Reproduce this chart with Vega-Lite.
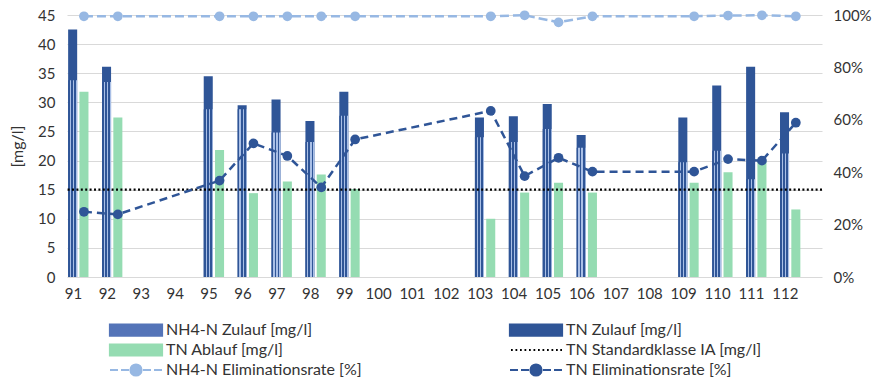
{
  "$schema": "https://vega.github.io/schema/vega-lite/v6.json",
  "width": 755,
  "height": 262,
  "autosize": {"type": "none"},
  "padding": {"left": 67, "top": 15, "right": 55, "bottom": 107},
  "background": "white",
  "config": {
    "font": "Lato",
    "view": {"stroke": null},
    "axis": {"labelFont": "Lato", "labelFontSize": 15, "labelColor": "#333333", "domain": false, "ticks": false, "gridColor": "#d9d9d9", "gridWidth": 1, "titleFont": "Lato", "titleColor": "#333333", "labelOverlap": false}
  },
  "data": {
    "values": [
      {"k": 91, "nh4": 33.8, "tn": 42.5, "abl": 31.8, "enh4": 0.995, "etn": 0.249},
      {"k": 92, "nh4": 33.5, "tn": 36.1, "abl": 27.4, "enh4": 0.995, "etn": 0.239},
      {"k": 95, "nh4": 28.8, "tn": 34.5, "abl": 21.8, "enh4": 0.995, "etn": 0.368},
      {"k": 96, "nh4": 28.8, "tn": 29.5, "abl": 14.4, "enh4": 0.995, "etn": 0.510},
      {"k": 97, "nh4": 24.8, "tn": 30.5, "abl": 16.4, "enh4": 0.995, "etn": 0.462},
      {"k": 98, "nh4": 23.2, "tn": 26.8, "abl": 17.6, "enh4": 0.995, "etn": 0.342},
      {"k": 99, "nh4": 27.7, "tn": 31.8, "abl": 15.1, "enh4": 0.995, "etn": 0.525},
      {"k": 103, "nh4": 24.0, "tn": 27.4, "abl": 10.0, "enh4": 0.995, "etn": 0.634},
      {"k": 104, "nh4": 23.2, "tn": 27.6, "abl": 14.5, "enh4": 0.999, "etn": 0.385},
      {"k": 105, "nh4": 25.4, "tn": 29.7, "abl": 16.2, "enh4": 0.972, "etn": 0.455},
      {"k": 106, "nh4": 22.2, "tn": 24.4, "abl": 14.5, "enh4": 0.995, "etn": 0.402},
      {"k": 109, "nh4": 19.7, "tn": 27.4, "abl": 16.2, "enh4": 0.995, "etn": 0.402},
      {"k": 110, "nh4": 21.7, "tn": 32.9, "abl": 18.0, "enh4": 0.998, "etn": 0.450},
      {"k": 111, "nh4": 16.8, "tn": 36.1, "abl": 19.9, "enh4": 0.999, "etn": 0.444},
      {"k": 112, "nh4": 21.2, "tn": 28.3, "abl": 11.6, "enh4": 0.995, "etn": 0.589}
    ]
  },
  "layer": [
    {
      "layer": [
        {
          "mark": {"type": "bar"},
          "encoding": {
            "x": {
              "field": "k", "type": "ordinal",
              "scale": {"domain": [91,92,93,94,95,96,97,98,99,100,101,102,103,104,105,106,107,108,109,110,111,112], "paddingInner": 0, "paddingOuter": 0.136, "align": 0},
              "axis": {"title": null, "labelAngle": 0, "grid": false, "labelPadding": 9, "labelOffset": -10.5}
            },
            "xOffset": {"datum": "Z", "scale": {"domain": ["Z", "A", "E"], "paddingInner": 0.2, "paddingOuter": 0.1}},
            "y": {"field": "tn", "type": "quantitative", "scale": {"domain": [0, 45], "nice": false},
              "axis": {"title": "[mg/l]", "titleFontSize": 16, "titleFontWeight": "normal", "titlePadding": 12, "values": [0,5,10,15,20,25,30,35,40,45], "grid": true, "labelPadding": 12}},
            "color": {
              "datum": "TN Zulauf [mg/l]",
              "scale": {
                "domain": ["NH4-N Zulauf [mg/l]", "TN Ablauf [mg/l]", "NH4-N Eliminationsrate [%]", "TN Zulauf [mg/l]", "TN Standardklasse IA [mg/l]", "TN Eliminationsrate [%]"],
                "range": ["#5474b8", "#95dcb2", "#97b8e3", "#2f5597", "#000000", "#2f5597"]
              },
              "legend": {
                "orient": "none", "legendX": 61, "legendY": 307, "columns": 2, "columnPadding": 143, "rowPadding": 0,
                "title": null, "padding": 0, "symbolSize": 100, "symbolOffset": 0, "labelOffset": 22,
                "labelFont": "Lato", "labelFontSize": 16, "labelColor": "#333333", "labelLimit": 400,
                "encode": {
                  "symbols": {
                    "update": {
                      "shape": [
                        {"test": "datum.index === 0", "value": "M-5.2,-0.629V-1.1H-4.9ZM-5.2,1.1H-4.8L-3.4,-1.1H-4.4L-5.2,0.157ZM-4.3,1.1H-3.3L-1.9,-1.1H-2.9ZM-2.8,1.1H-1.8L-0.4,-1.1H-1.4ZM-1.3,1.1H-0.3L1.1,-1.1H0.1ZM0.2,1.1H1.2L2.6,-1.1H1.6ZM1.7,1.1H2.7L4.1,-1.1H3.1ZM3.2,1.1H4.2L5.2,-0.471V-1.1H4.6ZM4.7,1.1H5.2V0.314Z"},
                        {"test": "datum.value === 'TN Standardklasse IA [mg/l]'", "value": "M-5,0h0.35M-4.1,0h0.35M-3.2,0h0.35M-2.3,0h0.35M-1.4,0h0.35M-0.5,0h0.35M0.4,0h0.35M1.3,0h0.35M2.2,0h0.35M3.1,0h0.35M4,0h0.35M4.85,0h0.35"},
                        {"test": "indexof(datum.value, 'Eliminationsrate') >= 0", "value": "M-5.2,0H-3.6M-3,0H-1.4M1.4,0H3M3.6,0H5.2M-1.1,0A1.1,1.1 0 1,1 1.1,0A1.1,1.1 0 1,1 -1.1,0Z"},
                        {"value": "M-5.2,-1.1H5.2V1.1H-5.2Z"}
                      ],
                      "fill": [
                        {"test": "datum.value === 'TN Standardklasse IA [mg/l]'", "value": "transparent"},
                        {"test": "datum.index === 0", "value": "#2f5597"},
                        {"scale": "color", "field": "value"}
                      ],
                      "stroke": [
                        {"test": "indexof(datum.value, 'Eliminationsrate') >= 0 || datum.value === 'TN Standardklasse IA [mg/l]'", "scale": "color", "field": "value"},
                        {"value": "transparent"}
                      ],
                      "strokeWidth": {"value": 2.2},
                      "opacity": {"value": 1},
                      "fillOpacity": {"value": 1},
                      "strokeOpacity": {"value": 1}
                    }
                  }
                }
              }
            }
          }
        },
        {
          "mark": {"type": "bar", "fill": {"gradient": "linear", "x1": 0, "y1": 0, "x2": 1, "y2": 0, "stops": [
            {"offset": 0, "color": "#2f5597"}, {"offset": 0.2, "color": "#2f5597"}, {"offset": 0.2, "color": "#a9bfe6"}, {"offset": 0.34, "color": "#a9bfe6"},
            {"offset": 0.34, "color": "#2f5597"}, {"offset": 0.54, "color": "#2f5597"}, {"offset": 0.54, "color": "#a9bfe6"}, {"offset": 0.68, "color": "#a9bfe6"},
            {"offset": 0.68, "color": "#2f5597"}, {"offset": 0.88, "color": "#2f5597"}, {"offset": 0.88, "color": "#a9bfe6"}, {"offset": 1, "color": "#a9bfe6"}
          ]}},
          "encoding": {
            "x": {"field": "k", "type": "ordinal"},
            "xOffset": {"datum": "Z"},
            "y": {"field": "nh4", "type": "quantitative",
              "axis": {"title": "[mg/l]", "titleFontSize": 16, "titleFontWeight": "normal", "titlePadding": 12, "values": [0,5,10,15,20,25,30,35,40,45], "grid": true, "labelPadding": 12}}
          }
        },
        {
          "mark": {"type": "bar"},
          "encoding": {
            "x": {"field": "k", "type": "ordinal"},
            "xOffset": {"datum": "A"},
            "y": {"field": "abl", "type": "quantitative",
              "axis": {"title": "[mg/l]", "titleFontSize": 16, "titleFontWeight": "normal", "titlePadding": 12, "values": [0,5,10,15,20,25,30,35,40,45], "grid": true, "labelPadding": 12}},
            "color": {"datum": "TN Ablauf [mg/l]"}
          }
        },
        {
          "data": {"values": [{"std": 15}]},
          "mark": {"type": "rule", "strokeDash": [2, 2.4], "strokeWidth": 2.2},
          "encoding": {
            "y": {"field": "std", "type": "quantitative",
              "axis": {"title": "[mg/l]", "titleFontSize": 16, "titleFontWeight": "normal", "titlePadding": 12, "values": [0,5,10,15,20,25,30,35,40,45], "grid": true, "labelPadding": 12}},
            "color": {"datum": "TN Standardklasse IA [mg/l]"}
          }
        }
      ]
    },
    {
      "layer": [
        {
          "mark": {"type": "line", "strokeDash": [9, 4], "strokeWidth": 2.5, "point": {"filled": true, "size": 95}},
          "encoding": {
            "x": {"field": "k", "type": "ordinal"},
            "y": {"field": "enh4", "type": "quantitative", "scale": {"domain": [0, 1], "nice": false},
              "axis": {"orient": "right", "title": null, "format": ".0%", "values": [0, 0.2, 0.4, 0.6, 0.8, 1], "grid": false, "labelPadding": 11}},
            "color": {"datum": "NH4-N Eliminationsrate [%]"}
          }
        },
        {
          "mark": {"type": "line", "strokeDash": [8, 5], "strokeWidth": 2.5, "point": {"filled": true, "size": 95}},
          "encoding": {
            "x": {"field": "k", "type": "ordinal"},
            "y": {"field": "etn", "type": "quantitative",
              "axis": {"orient": "right", "title": null, "format": ".0%", "values": [0, 0.2, 0.4, 0.6, 0.8, 1], "grid": false, "labelPadding": 11}},
            "color": {"datum": "TN Eliminationsrate [%]"}
          }
        }
      ]
    }
  ],
  "resolve": {"scale": {"y": "independent"}}
}
